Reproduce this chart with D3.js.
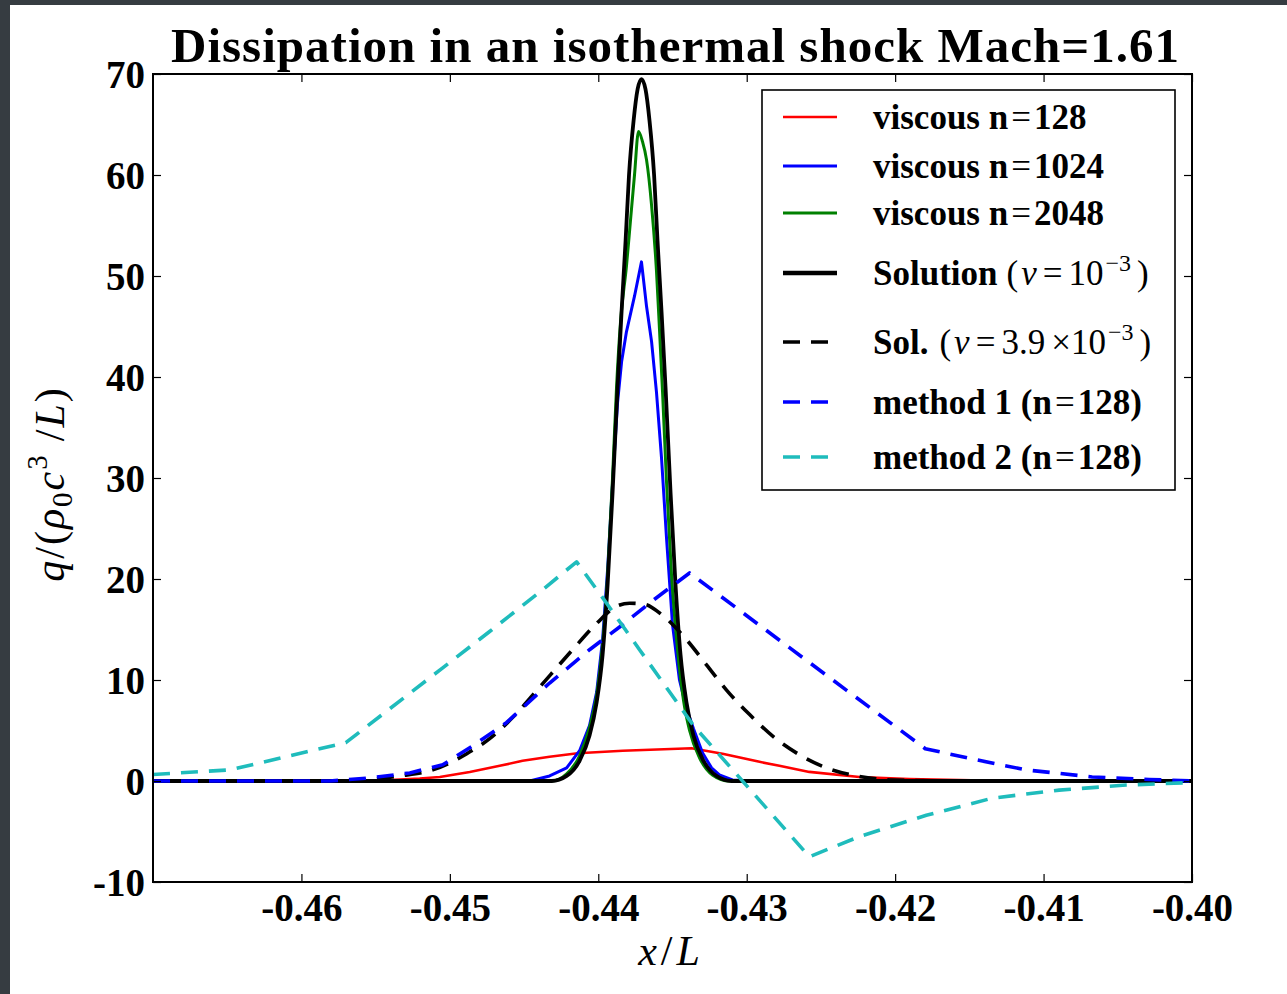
<!DOCTYPE html>
<html>
<head>
<meta charset="utf-8">
<script src="https://cdn.jsdelivr.net/npm/d3@7"></script>
<style>
  html, body { margin: 0; padding: 0; background: #fff; }
  svg { display: block; }
</style>
</head>
<body>
<svg id="chart" width="1287" height="994"></svg>
<script>
// ---- axis ticks ----
const xTicks = [-0.46, -0.45, -0.44, -0.43, -0.42, -0.41, -0.40];
const xTickLabels = ["-0.46", "-0.45", "-0.44", "-0.43", "-0.42", "-0.41", "-0.40"];
const yTicks = [-10, 0, 10, 20, 30, 40, 50, 60, 70];
const yTickLabels = ["-10", "0", "10", "20", "30", "40", "50", "60", "70"];

// ---- series: viscous runs ----
const viscous128X = [-0.47, -0.45607, -0.45405, -0.45203, -0.45068, -0.44866, -0.44664, -0.44510, -0.44328, -0.44139, -0.43836, -0.43372, -0.43163, -0.42914, -0.42780, -0.42578, -0.42241, -0.41905, -0.41568, -0.41232, -0.40];
const viscous128Q = [0, 0, 0.1, 0.25, 0.4, 0.9, 1.5, 2.0, 2.4, 2.75, 3.0, 3.25, 2.7, 1.9, 1.5, 0.9, 0.4, 0.2, 0.1, 0, 0];

const viscous1024X = [-0.47, -0.44462, -0.44328, -0.44213, -0.44126, -0.44059, -0.44011, -0.43971, -0.43937, -0.43904, -0.43870, -0.43843, -0.43810, -0.43756, -0.43709, -0.43675, -0.43641, -0.43608, -0.43574, -0.43540, -0.43500, -0.43453, -0.43406, -0.43359, -0.43298, -0.43237, -0.43184, -0.43096, -0.42982, -0.40];
const viscous1024Q = [0, 0, 0.5, 1.3, 3.0, 5.5, 8.8, 14, 21, 29.5, 37.5, 41.5, 44.5, 48.0, 51.4, 47, 43.5, 38.5, 32, 24, 15.5, 10, 7.2, 5.2, 2.8, 1.3, 0.6, 0.1, 0, 0];

const viscous2048X = [-0.47, -0.44314, -0.44213, -0.44126, -0.44059, -0.44011, -0.43971, -0.43937, -0.43904, -0.43877, -0.43850, -0.43810, -0.43783, -0.43756, -0.43729, -0.43702, -0.43675, -0.43641, -0.43608, -0.43587, -0.43567, -0.43540, -0.43507, -0.43466, -0.43426, -0.43385, -0.43318, -0.43231, -0.43116, -0.40];
const viscous2048Q = [0, 0, 0.7, 2.5, 5.3, 8.5, 13.5, 20.5, 30, 39, 45.5, 51, 55.5, 60, 64.3, 63.3, 61.5, 57, 50.5, 44.5, 38.5, 29.5, 20.5, 13, 8, 5, 2.3, 0.6, 0, 0];

// ---- series: analytic solutions ----
const solutionX = [-0.47, -0.44314, -0.44213, -0.44126, -0.44059, -0.44011, -0.43971, -0.43937, -0.43904, -0.43870, -0.43843, -0.43816, -0.43793, -0.43762, -0.43735, -0.43709, -0.43682, -0.43655, -0.43624, -0.43601, -0.43574, -0.43547, -0.43513, -0.43480, -0.43446, -0.43406, -0.43359, -0.43291, -0.43204, -0.43103, -0.40];
const solutionQ = [0, 0, 0.5, 2.0, 4.5, 7.8, 12.5, 19.5, 28.5, 39, 46.5, 53.5, 60, 65.4, 68.5, 69.5, 68.5, 65.4, 60, 53.5, 46.5, 39, 28.5, 19.5, 12.5, 7.8, 4.5, 2.0, 0.5, 0, 0];

const solWideX = [-0.47, -0.45809, -0.45539, -0.45337, -0.45115, -0.44886, -0.44732, -0.44563, -0.44395, -0.44173, -0.44011, -0.43877, -0.43789, -0.43688, -0.43567, -0.43406, -0.43271, -0.43136, -0.42982, -0.42813, -0.42645, -0.42463, -0.42241, -0.42019, -0.41635, -0.40];
const solWideQ = [0, 0, 0.15, 0.5, 1.1, 2.7, 4.2, 6.5, 9.3, 13.0, 15.6, 17.3, 17.6, 17.5, 16.4, 14.0, 11.5, 9.0, 6.6, 4.3, 2.6, 1.3, 0.45, 0.1, 0, 0];

// ---- series: reconstruction methods (n=128) ----
const method1X = [-0.47, -0.45809, -0.45539, -0.45270, -0.45048, -0.44833, -0.44617, -0.44328, -0.44059, -0.43843, -0.43621, -0.43385, -0.42712, -0.42329, -0.41797, -0.41454, -0.41117, -0.40673, -0.40289, -0.40];
const method1Q = [0, 0, 0.3, 0.8, 1.6, 3.6, 5.8, 9.7, 13.0, 15.4, 18.0, 20.6, 13.2, 9.0, 3.2, 2.1, 1.1, 0.4, 0.15, 0];

const method2X = [-0.47, -0.46482, -0.45701, -0.45048, -0.44732, -0.44395, -0.44146, -0.43944, -0.43722, -0.43359, -0.42578, -0.42241, -0.41790, -0.41346, -0.40895, -0.40444, -0.40];
const method2Q = [0.65, 1.1, 3.8, 11.2, 14.8, 18.7, 21.7, 17.6, 13.0, 5.5, -7.5, -5.5, -3.4, -1.7, -0.9, -0.4, -0.15];

const seriesNames = ["viscous n=128", "viscous n=1024", "viscous n=2048", "Solution", "Sol.", "method 1 (n=128)", "method 2 (n=128)"];

// ---- layout ----
const W = 1287, H = 994;
const plot = { left: 153, right: 1192, top: 74, bottom: 882 };
const serif = "'Liberation Serif', 'Times New Roman', serif";

const svg = d3.select("#chart");

// page frame
svg.append("rect").attr("x", 0).attr("y", 0).attr("width", W).attr("height", H).attr("fill", "#363c41");
svg.append("rect").attr("x", 10).attr("y", 5).attr("width", W - 10).attr("height", H - 5).attr("fill", "#ffffff");

const x = d3.scaleLinear().domain([-0.47, -0.40]).range([plot.left, plot.right]);
const y = d3.scaleLinear().domain([-10, 70]).range([plot.bottom, plot.top]);

const defs = svg.append("defs");
defs.append("clipPath").attr("id", "plot-clip")
  .append("rect")
  .attr("x", plot.left).attr("y", plot.top)
  .attr("width", plot.right - plot.left).attr("height", plot.bottom - plot.top);

const zip = (xs, qs) => xs.map((v, i) => ({ x: v, q: qs[i] }));

const series = [
  { name: seriesNames[0], data: zip(viscous128X, viscous128Q), color: "#ff0000", width: 2.6, dash: null, curve: d3.curveLinear },
  { name: seriesNames[1], data: zip(viscous1024X, viscous1024Q), color: "#0000ff", width: 3.0, dash: null, curve: d3.curveLinear },
  { name: seriesNames[2], data: zip(viscous2048X, viscous2048Q), color: "#008000", width: 3.0, dash: null, curve: d3.curveMonotoneX },
  { name: seriesNames[3], data: zip(solutionX, solutionQ), color: "#000000", width: 3.8, dash: null, curve: d3.curveMonotoneX },
  { name: seriesNames[4], data: zip(solWideX, solWideQ), color: "#000000", width: 3.6, dash: "17,11", curve: d3.curveMonotoneX },
  { name: seriesNames[5], data: zip(method1X, method1Q), color: "#0000ff", width: 3.6, dash: "17,11", curve: d3.curveLinear },
  { name: seriesNames[6], data: zip(method2X, method2Q), color: "#1fbcbc", width: 3.6, dash: "17,11", curve: d3.curveLinear }
];

const lines = svg.append("g").attr("clip-path", "url(#plot-clip)");
series.forEach(s => {
  const gen = d3.line().x(d => x(d.x)).y(d => y(d.q)).curve(s.curve);
  lines.append("path")
    .attr("d", gen(s.data))
    .attr("fill", "none")
    .attr("stroke", s.color)
    .attr("stroke-width", s.width)
    .attr("stroke-linejoin", "round")
    .attr("stroke-dasharray", s.dash);
});

// ---- axes: ticks pointing inward on all four sides ----
const tickLen = 8;
const axisBottom = d3.axisBottom(x).tickValues(xTicks).tickSize(-tickLen).tickFormat((d, i) => xTickLabels[i]);
const axisTop = d3.axisTop(x).tickValues(xTicks).tickSize(-tickLen).tickFormat("");
const axisLeft = d3.axisLeft(y).tickValues(yTicks).tickSize(-tickLen).tickFormat((d, i) => yTickLabels[i]);
const axisRight = d3.axisRight(y).tickValues(yTicks).tickSize(-tickLen).tickFormat("");

function styleAxis(g) {
  g.select(".domain").remove();
  g.selectAll(".tick line").attr("stroke", "#000").attr("stroke-width", 1.2);
  g.selectAll(".tick text")
    .attr("fill", "#000")
    .style("font-family", serif)
    .style("font-weight", "bold")
    .style("font-size", "39px");
}

const gB = svg.append("g").attr("transform", `translate(0,${plot.bottom})`).call(axisBottom).call(styleAxis);
gB.selectAll(".tick text").attr("y", 0).attr("dy", null).attr("transform", "translate(0,39)");
svg.append("g").attr("transform", `translate(0,${plot.top})`).call(axisTop).call(styleAxis);
const gL = svg.append("g").attr("transform", `translate(${plot.left},0)`).call(axisLeft).call(styleAxis);
gL.selectAll(".tick text").attr("x", -8).attr("dy", "0.34em");
svg.append("g").attr("transform", `translate(${plot.right},0)`).call(axisRight).call(styleAxis);

// plot frame
svg.append("rect")
  .attr("x", plot.left).attr("y", plot.top)
  .attr("width", plot.right - plot.left).attr("height", plot.bottom - plot.top)
  .attr("fill", "none").attr("stroke", "#000").attr("stroke-width", 2);

// ---- title ----
svg.append("text")
  .attr("x", 675).attr("y", 62)
  .attr("text-anchor", "middle")
  .attr("textLength", 1008).attr("lengthAdjust", "spacing")
  .style("font-family", serif).style("font-weight", "bold").style("font-size", "49px")
  .text("Dissipation in an isothermal shock Mach=1.61");

// ---- axis labels ----
const xl = svg.append("text")
  .attr("x", 671).attr("y", 965)
  .attr("text-anchor", "middle")
  .style("font-family", serif).style("font-size", "42px").style("letter-spacing", "4px");
xl.append("tspan").style("font-style", "italic").text("x");
xl.append("tspan").text("/");
xl.append("tspan").style("font-style", "italic").text("L");

const yl = svg.append("text")
  .attr("transform", "translate(64,484) rotate(-90)")
  .attr("text-anchor", "middle")
  .style("font-family", serif).style("font-size", "42px").style("letter-spacing", "2px");
yl.append("tspan").style("font-style", "italic").text("q");
yl.append("tspan").text("/(");
yl.append("tspan").style("font-style", "italic").text("ρ");
yl.append("tspan").attr("dy", 8).style("font-size", "29px").text("0");
yl.append("tspan").attr("dy", -8).style("font-style", "italic").text("c");
yl.append("tspan").attr("dy", -17).style("font-size", "29px").text("3");
yl.append("tspan").attr("dy", 17).attr("dx", 12).text("/");
yl.append("tspan").style("font-style", "italic").text("L");
yl.append("tspan").text(")");

// ---- legend ----
const legend = svg.append("g");
legend.append("rect")
  .attr("x", 762).attr("y", 90).attr("width", 413).attr("height", 400)
  .attr("fill", "#fff").attr("stroke", "#000").attr("stroke-width", 1.6);

const rowY = [117, 166, 213, 273, 342, 402, 457];
const legendFont = "35px";

series.forEach((s, i) => {
  legend.append("line")
    .attr("x1", 783).attr("x2", 837)
    .attr("y1", rowY[i]).attr("y2", rowY[i])
    .attr("stroke", s.color)
    .attr("stroke-width", s.width + (i === 3 ? 0.8 : 0))
    .attr("stroke-dasharray", s.dash);
});

function legendText(i) {
  return legend.append("text")
    .attr("x", 873).attr("y", rowY[i] + 12)
    .style("font-family", serif).style("font-size", legendFont);
}
function nEquals(t, word, num, paren) {
  t.append("tspan").style("font-weight", "bold").text(word + (paren ? " (n" : " n"));
  t.append("tspan").attr("dx", 3).text("=");
  t.append("tspan").attr("dx", 3).style("font-weight", "bold").text(num + (paren ? ")" : ""));
}
nEquals(legendText(0), "viscous", "128", false);
nEquals(legendText(1), "viscous", "1024", false);
nEquals(legendText(2), "viscous", "2048", false);

function nuPower(t, mantissa, gap) {
  t.append("tspan").attr("dx", gap).text("(");
  t.append("tspan").attr("dx", 3).style("font-style", "italic").text("ν");
  t.append("tspan").attr("dx", 6).text("=");
  if (mantissa) {
    t.append("tspan").attr("dx", 6).text(mantissa);
    t.append("tspan").attr("dx", 6).text("×10");
  } else {
    t.append("tspan").attr("dx", 6).text("10");
  }
  t.append("tspan").attr("dy", -14).attr("dx", 2).style("font-size", "24px").text("−3");
  t.append("tspan").attr("dy", 14).attr("dx", 6).text(")");
}

const t3 = legendText(3);
t3.append("tspan").style("font-weight", "bold").text("Solution");
nuPower(t3, null, 9);

const t4 = legendText(4);
t4.append("tspan").style("font-weight", "bold").text("Sol.");
nuPower(t4, "3.9", 11);

nEquals(legendText(5), "method 1", "128", true);
nEquals(legendText(6), "method 2", "128", true);
</script>
</body>
</html>
